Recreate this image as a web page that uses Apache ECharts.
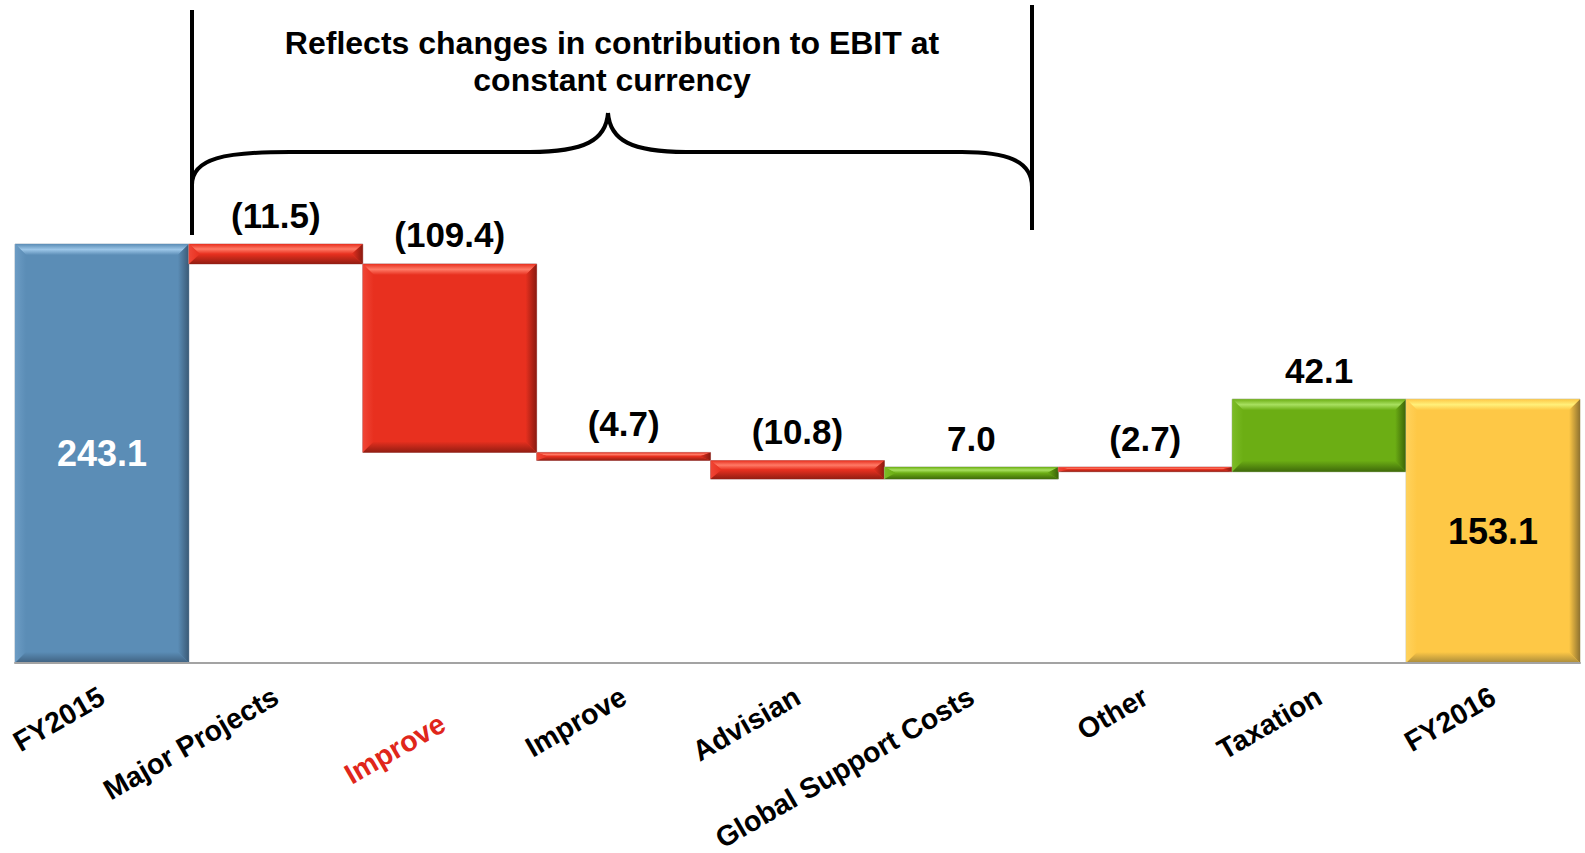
<!DOCTYPE html>
<html>
<head>
<meta charset="utf-8">
<script src="https://cdn.jsdelivr.net/npm/echarts@6/dist/echarts.min.js"></script>
<style>
  html, body { margin: 0; padding: 0; background: #ffffff; }
  #chart { width: 1585px; height: 853px; }
</style>
</head>
<body>
<div id="chart"></div>
<script>
// EBIT bridge FY2015 -> FY2016 (A$m)
const categories = ['FY2015', 'Major Projects', 'Improve', 'Improve', 'Advisian',
                    'Global Support Costs', 'Other', 'Taxation', 'FY2016'];
const changes = [243.1, -11.5, -109.4, -4.7, -10.8, 7.0, -2.7, 42.1, 153.1];
const isTotal = [true, false, false, false, false, false, false, false, true];
const redLabelIndex = 2;
const bracketNote = ['Reflects changes in contribution to EBIT at', 'constant currency'];

// Bevelled bar palettes
const palettes = {
  start: { face: '#5b8db6', top: '#9cc6e8', left: '#6c9cc4', right: '#3a5a76', bottom: '#3f6180', edge: '#a9b8c6' },
  end:   { face: '#fec846', top: '#fff07a', left: '#ffd25c', right: '#8f7330', bottom: '#a88a3a', edge: '#c8c0a0' },
  down:  { face: '#e8301f', top: '#ff7a66', left: '#f04636', right: '#8a1a10', bottom: '#921d12', edge: '#c09090' },
  up:    { face: '#6cae14', top: '#a8e060', left: '#7cbc26', right: '#3a6208', bottom: '#3f6a0a', edge: '#a0b090' }
};

function fmt(v) {
  return v < 0 ? '(' + Math.abs(v).toFixed(1) + ')' : v.toFixed(1);
}

// floating segments of the waterfall
const seriesData = [];
let running = 0;
changes.forEach(function (v, i) {
  let lo, hi, kind;
  if (isTotal[i]) {
    lo = 0; hi = v; running = v;
    kind = i === 0 ? 'start' : 'end';
  } else {
    const next = running + v;
    lo = Math.min(running, next); hi = Math.max(running, next);
    running = next;
    kind = v < 0 ? 'down' : 'up';
  }
  seriesData.push({ value: [i, lo, hi, v], kind: kind });
});

function grad(x1, y1, x2, y2, stops) {
  return new echarts.graphic.LinearGradient(x1, y1, x2, y2,
    stops.map(function (c, k) { return { offset: k / (stops.length - 1), color: c }; }));
}

function renderItem(params, api) {
  const item = seriesData[params.dataIndex];
  const pal = palettes[item.kind];
  const i = api.value(0);
  const v = api.value(3);
  const bw = api.size([1, 0])[0];
  const pTop = api.coord([i, api.value(2)]);
  const pBot = api.coord([i, api.value(1)]);
  const x = pTop[0] - bw / 2, y = pTop[1], w = bw, h = Math.max(pBot[1] - pTop[1], 2);
  const bx = Math.min(11, w / 2), by = Math.min(11, h / 2);
  const total = isTotal[params.dataIndex];

  return {
    type: 'group',
    children: [
      {
        type: 'rect',
        shape: { x: x, y: y, width: w, height: h },
        style: { fill: pal.face, stroke: pal.edge, lineWidth: 1 },
        textContent: {
          style: {
            text: fmt(v),
            fill: item.kind === 'start' ? '#ffffff' : '#000000',
            font: 'bold ' + (total ? 36 : 35) + 'px "Liberation Sans", Arial, sans-serif'
          }
        },
        textConfig: total ? { position: 'inside' } : { position: 'top', distance: 11 }
      },
      {
        type: 'polygon',
        shape: { points: [[x, y], [x + w, y], [x + w - bx, y + by], [x + bx, y + by]] },
        style: { fill: grad(0, 0, 0, 1, [pal.face, pal.top, pal.face]) }
      },
      {
        type: 'polygon',
        shape: { points: [[x, y], [x + bx, y + by], [x + bx, y + h - by], [x, y + h]] },
        style: { fill: grad(0, 0, 1, 0, [pal.left, pal.face]) }
      },
      {
        type: 'polygon',
        shape: { points: [[x + w, y], [x + w, y + h], [x + w - bx, y + h - by], [x + w - bx, y + by]] },
        style: { fill: grad(1, 0, 0, 0, [pal.right, pal.face]) }
      },
      {
        type: 'polygon',
        shape: { points: [[x, y + h], [x + bx, y + h - by], [x + w - bx, y + h - by], [x + w, y + h]] },
        style: { fill: grad(0, 1, 0, 0, [pal.bottom, pal.face]) }
      }
    ]
  };
}

const font = '"Liberation Sans", Arial, sans-serif';
const labelMargin = 31;
const labelSize = 28.5;
const chart = echarts.init(document.getElementById('chart'), null, { renderer: 'svg' });

chart.setOption({
  animation: false,
  backgroundColor: '#ffffff',
  grid: { left: 15, right: 5, top: 146, bottom: 190, containLabel: false, outerBoundsMode: 'none' },
  xAxis: {
    type: 'category',
    data: categories,
    boundaryGap: true,
    axisTick: { show: false },
    axisLine: { show: true, lineStyle: { color: '#a3a3a3', width: 2 } },
    axisLabel: {
      interval: 0,
      rotate: 30,
      margin: labelMargin,
      color: '#000000',
      fontSize: labelSize,
      fontWeight: 'bold',
      fontFamily: font,
      // the highlighted category is drawn separately, set lower and in red
      formatter: function (value, index) { return index === redLabelIndex ? '' : value; }
    },
    z: 5
  },
  yAxis: { type: 'value', min: 0, max: 300, show: false },
  series: [{
    type: 'custom',
    renderItem: renderItem,
    encode: { x: 0, y: [1, 2] },
    data: seriesData.map(function (d) { return d.value; }),
    clip: false
  }],
  graphic: [
    { type: 'line', shape: { x1: 192, y1: 10, x2: 192, y2: 235 }, style: { stroke: '#000', lineWidth: 4 } },
    { type: 'line', shape: { x1: 1032, y1: 5, x2: 1032, y2: 230 }, style: { stroke: '#000', lineWidth: 4 } },
    { type: 'bezierCurve', shape: { x1: 192, y1: 185, cpx1: 192, cpy1: 158, cpx2: 225, cpy2: 152, x2: 290, y2: 152 },
      style: { stroke: '#000', lineWidth: 4, fill: null } },
    { type: 'line', shape: { x1: 290, y1: 152, x2: 530, y2: 152 }, style: { stroke: '#000', lineWidth: 4 } },
    { type: 'bezierCurve', shape: { x1: 530, y1: 152, cpx1: 585, cpy1: 152, cpx2: 606, cpy2: 140, x2: 608, y2: 113 },
      style: { stroke: '#000', lineWidth: 4, fill: null } },
    { type: 'bezierCurve', shape: { x1: 608, y1: 113, cpx1: 610, cpy1: 140, cpx2: 631, cpy2: 152, x2: 686, y2: 152 },
      style: { stroke: '#000', lineWidth: 4, fill: null } },
    { type: 'line', shape: { x1: 686, y1: 152, x2: 962, y2: 152 }, style: { stroke: '#000', lineWidth: 4 } },
    { type: 'bezierCurve', shape: { x1: 962, y1: 152, cpx1: 1005, cpy1: 152, cpx2: 1032, cpy2: 160, x2: 1032, y2: 187 },
      style: { stroke: '#000', lineWidth: 4, fill: null } },
    { type: 'text', x: 612, y: 43,
      style: { text: bracketNote[0], font: 'bold 32px ' + font, fill: '#000', textAlign: 'center', textVerticalAlign: 'middle' } },
    { type: 'text', x: 612, y: 80,
      style: { text: bracketNote[1], font: 'bold 32px ' + font, fill: '#000', textAlign: 'center', textVerticalAlign: 'middle' } }
  ]
});

// red category label, anchored to its category on the axis
const anchorX = chart.convertToPixel({ xAxisIndex: 0 }, redLabelIndex);
const axisY = chart.convertToPixel({ yAxisIndex: 0 }, 0);
chart.setOption({
  graphic: [{
    id: 'redCategory',
    type: 'text',
    x: anchorX - 7,
    y: axisY + labelMargin + 27,
    rotation: Math.PI / 6,
    style: {
      text: categories[redLabelIndex],
      font: 'bold ' + labelSize + 'px ' + font,
      fill: '#e0261b',
      textAlign: 'right',
      textVerticalAlign: 'middle'
    }
  }]
});
</script>
</body>
</html>
